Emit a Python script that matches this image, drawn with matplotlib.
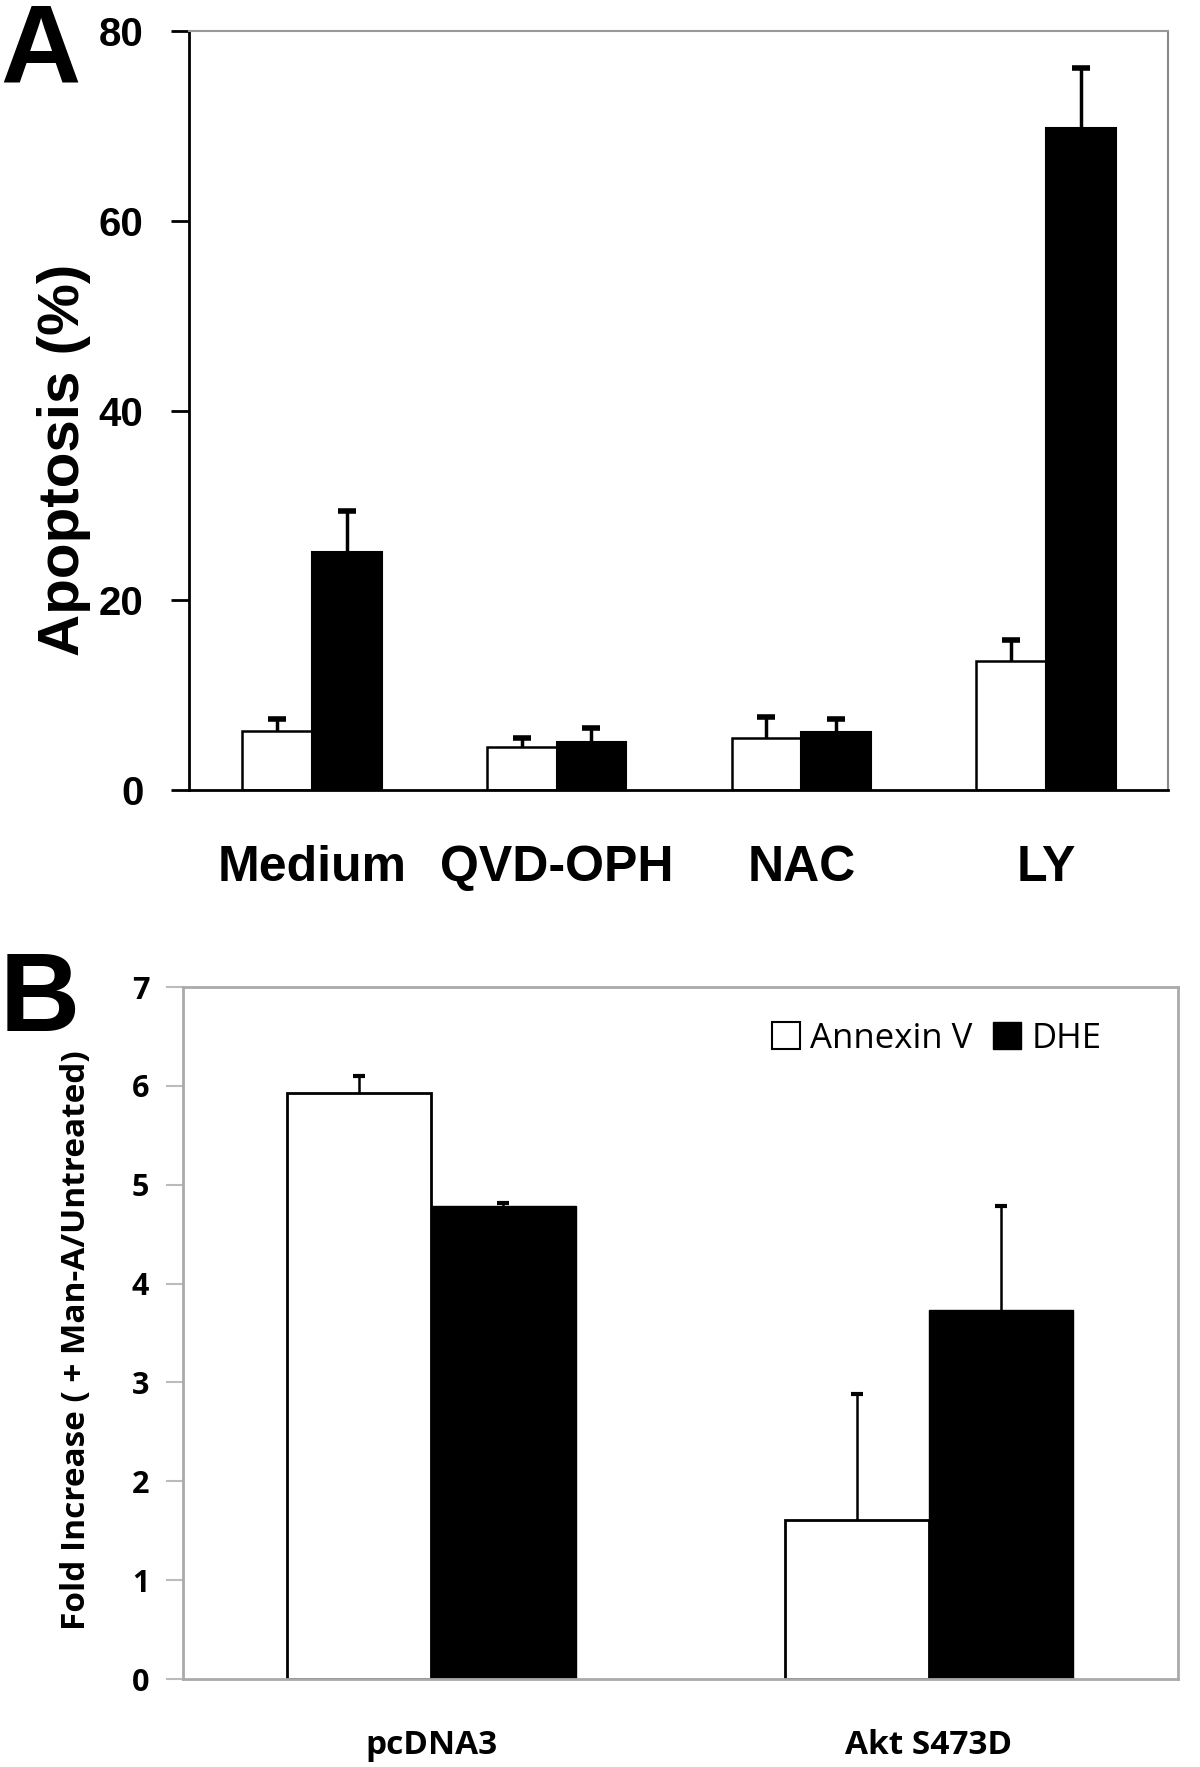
import matplotlib.pyplot as plt
from matplotlib.patches import Patch
import numpy as np

# ---- panel A data ----
a_groups = ['Medium', 'QVD-OPH', 'NAC', 'LY']
a_white = [6.2, 4.5, 5.5, 13.6]
a_white_err = [1.3, 1.0, 2.2, 2.2]
a_black = [25.1, 5.0, 6.1, 69.8]
a_black_err = [4.3, 1.5, 1.4, 6.3]

# ---- panel B data ----
b_groups = ['pcDNA3', 'Akt S473D']
b_white = [5.93, 1.61]
b_white_err = [0.17, 1.27]
b_black = [4.78, 3.73]
b_black_err = [0.04, 1.05]
b_labels = ['Annexin V', 'DHE']

arial = ['Liberation Sans', 'DejaVu Sans']
calib = ['Open Sans', 'DejaVu Sans']


def upper_err(ax, xs, ys, errs, lw, capw, capt):
    # only the upper half of the error bar, as in the figure
    ys = np.asarray(ys)
    tops = ys + np.asarray(errs)
    ax.vlines(xs, ys, tops, color='black', linewidth=lw, zorder=3)
    ax.plot(xs, tops, linestyle='none', marker='_', markersize=capw,
            markeredgewidth=capt, color='black', zorder=3)


fig = plt.figure(figsize=(12, 17.67), dpi=100)

###############---------- panel A ----------##############
axA = fig.add_axes([0.1578, 0.553, 0.9737 - 0.1578, 0.9822 - 0.553])
x = np.arange(len(a_groups))
w = 0.285
axA.bar(x - w / 2, a_white, w, color='white', edgecolor='black', linewidth=1.8, zorder=2)
axA.bar(x + w / 2, a_black, w, color='black', edgecolor='black', linewidth=1.5, zorder=2)
upper_err(axA, x - w / 2, a_white, a_white_err, 2.5, 13, 4)
upper_err(axA, x + w / 2, a_black, a_black_err, 2.5, 13, 4)
axA.set_xlim(-0.5, 3.5)
axA.set_ylim(0, 80)
axA.set_yticks([0, 20, 40, 60, 80])
axA.set_xticks(x)
axA.set_xticklabels(a_groups, fontsize=36, fontweight='bold', family=arial)
axA.tick_params(axis='x', length=0, pad=40)
axA.tick_params(axis='y', direction='out', length=13, width=2, pad=20)
for lab in axA.get_yticklabels():
    lab.set_fontsize(29)
    lab.set_fontweight('bold')
    lab.set_family(arial)
axA.spines['left'].set_linewidth(2)
axA.spines['bottom'].set_linewidth(2)
axA.spines['top'].set_color('#999999')
axA.spines['right'].set_color('#888888')
axA.spines['top'].set_linewidth(1.5)
axA.spines['right'].set_linewidth(1.5)
axA.set_ylabel('Apoptosis (%)', fontsize=42, fontweight='bold', family=arial)
axA.yaxis.set_label_coords(-0.10, 0.435)
fig.text(0.0, 0.999, 'A', fontsize=80, fontweight='bold', family=arial, va='top', ha='left')

###############---------- panel B ----------##############
axB = fig.add_axes([0.1521, 0.0498, 0.9813 - 0.1521, 0.4414 - 0.0498])
xb = np.arange(len(b_groups))
wb = 0.29
axB.bar(xb - wb / 2, b_white, wb, color='white', edgecolor='black', linewidth=2, zorder=2)
axB.bar(xb + wb / 2, b_black, wb, color='black', edgecolor='black', linewidth=1, zorder=2)
upper_err(axB, xb - wb / 2, b_white, b_white_err, 1.8, 8, 3)
upper_err(axB, xb + wb / 2, b_black, b_black_err, 1.8, 8, 3)
axB.set_xlim(-0.5, 1.5)
axB.set_ylim(0, 7)
axB.set_yticks(range(8))
axB.set_xticks(xb)
axB.set_xticklabels(b_groups, fontsize=24, fontweight='bold', family=calib)
axB.tick_params(axis='x', length=0, pad=36)
axB.tick_params(axis='y', direction='out', length=12, width=1.5, color='#bbbbbb', pad=12)
for lab in axB.get_yticklabels():
    lab.set_fontsize(22)
    lab.set_fontweight('bold')
    lab.set_family(calib)
for s in axB.spines.values():
    s.set_color('#aaaaaa')
    s.set_linewidth(2)
axB.set_ylabel('Fold Increase ( + Man-A/Untreated)', fontsize=24, fontweight='bold', family=calib)
axB.yaxis.set_label_coords(-0.09, 0.49)
handles = [Patch(facecolor='white', edgecolor='black', linewidth=1.5),
           Patch(facecolor='black', edgecolor='black')]
axB.legend(handles, b_labels, loc='upper right', bbox_to_anchor=(0.955, 0.995), ncol=2, frameon=False,
           prop={'family': calib, 'size': 25}, handlelength=0.8, handleheight=0.8,
           handletextpad=0.3, columnspacing=0.6)
fig.text(0.0, 0.4624, 'B', fontsize=80, fontweight='bold', family=arial, va='top', ha='left')

fig.savefig('out.png', dpi=100)
